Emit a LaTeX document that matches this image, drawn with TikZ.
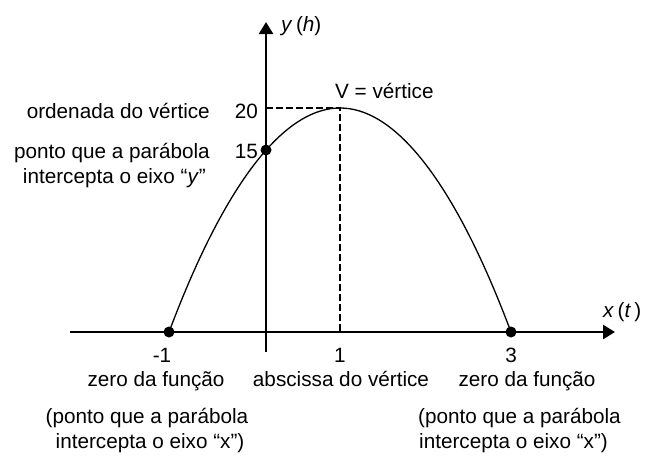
\documentclass[tikz,border=0pt]{standalone}
\usepackage{fontspec}
\setmainfont{Liberation Sans}
\usetikzlibrary{arrows.meta,calc,positioning}

\begin{document}
\begin{tikzpicture}[x=1pt,y=-1pt,
    axis/.style={line width=2.6pt,-{Triangle[length=12pt,width=14pt]}},
    curve/.style={line width=1.3pt},
    guide/.style={line width=1.2pt,dash pattern=on 6.5pt off 3.5pt},
    lbl/.style={font=\fontsize{20.7}{25}\selectfont,inner sep=0pt}]
    \useasboundingbox (0,0) rectangle (645,456);
    % parabola y(t) with its vertex and zeros
    \coordinate (xs) at (70,332);
    \coordinate (xe) at (615,332);
    \coordinate (ys) at (266,352);
    \coordinate (ye) at (266,22);
    \coordinate (A) at (169,332);
    \coordinate (B) at (511,332);
    \coordinate (V) at (340,108);
    \coordinate (C) at (266,150);
    \coordinate (Vy) at (266,108);
    \coordinate (Vx) at (340,332);

    % Draw axes
    \draw[axis] (xs) -- (xe);
    \draw[axis] (ys) -- (ye);

    % Draw guides and curve
    \draw[guide] (Vy) -- (V) -- (Vx);
    \draw[curve] (A) parabola bend (V) (B);

    % Draw points
    \foreach \point in {A,B,C} {
        \fill (\point) circle (5.5pt);
    }

    % axis names
    \node[lbl,anchor=base west] (ylab) at (281,31) {\textit{y}\,(\textit{h})};
    \node[lbl,anchor=base west] (xlab) at (603,317) {\textit{x}\,(\textit{t}\,)};

    % values
    \node[lbl,anchor=base east] (v20) at (258,118) {20};
    \node[lbl,anchor=base east] (v15) at (258,158) {15};
    \node[lbl,anchor=base] (vm1) at (162,362) {-1};
    \node[lbl,anchor=base] (v1) at (340,362) {1};
    \node[lbl,anchor=base] (v3) at (511,362) {3};

    % texts
    \node[lbl,anchor=base west] (vert) at (335,98) {V = vértice};
    \node[lbl,anchor=base east] (ordv) at (210,118) {ordenada do vértice};
    \node[lbl,anchor=base east] (py1) at (210,158) {ponto que a parábola};
    \node[lbl,anchor=base east] (py2) at (206,183) {intercepta o eixo “\textit{y}”};
    \node[lbl,anchor=base] (zl) at (156,386) {zero da função};
    \node[lbl,anchor=base] (absv) at (341,386) {abscissa do vértice};
    \node[lbl,anchor=base] (zr) at (527,386) {zero da função};
    \node[lbl,anchor=base] (pl1) at (147,423) {(ponto que a parábola};
    \node[lbl,anchor=base] (pl2) at (150,448) {intercepta o eixo “x”)};
    \node[lbl,anchor=base west] (pr1) at (418,423) {(ponto que a parábola};
    \node[lbl,anchor=base west] (pr2) at (419,448) {intercepta o eixo “x”)};
\end{tikzpicture}
\end{document}
